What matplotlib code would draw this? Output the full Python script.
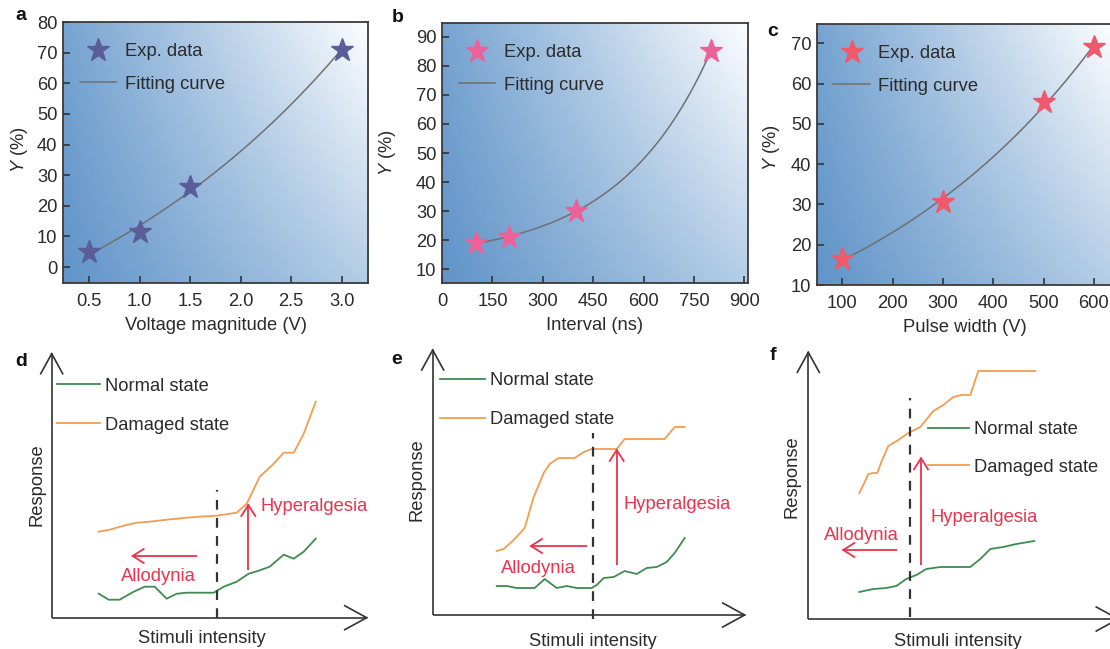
import numpy as np
import matplotlib
matplotlib.use('Agg')
import matplotlib.pyplot as plt
from matplotlib.colors import to_rgb

plt.rcParams['font.family'] = ['Liberation Sans', 'DejaVu Sans']
plt.rcParams['mathtext.fontset'] = 'custom'
plt.rcParams['mathtext.it'] = 'Liberation Sans:italic'
plt.rcParams['mathtext.rm'] = 'Liberation Sans'
plt.rcParams['lines.scale_dashes'] = False

# ---------------- data ----------------
volt_x = [0.5, 1.0, 1.5, 3.0]
volt_y = [5, 11.5, 26, 71]
interval_x = [100, 200, 400, 800]
interval_y = [19, 21, 30, 85]
pulse_x = [100, 300, 500, 600]
pulse_y = [16.5, 30.5, 55.5, 69]

volt_ticks = [0.5, 1.0, 1.5, 2.0, 2.5, 3.0]
volt_yticks = [0, 10, 20, 30, 40, 50, 60, 70, 80]
interval_ticks = [0, 150, 300, 450, 600, 750, 900]
interval_yticks = [10, 20, 30, 40, 50, 60, 70, 80, 90]
pulse_ticks = [100, 200, 300, 400, 500, 600]
pulse_yticks = [10, 20, 30, 40, 50, 60, 70]

# schematic curves (arbitrary units: stimuli intensity vs response)
d_norm_x = [47, 57, 68, 82, 93, 103, 115, 125, 135, 162, 172, 185, 197, 207, 218, 232, 242, 252, 264]
d_norm_y = [24, 18, 18, 26, 31, 31, 19, 24, 25, 25, 31, 36, 44, 47, 51, 63, 59, 66, 79]
d_dam_x = [47, 58, 72, 85, 98, 115, 135, 148, 165, 185, 195, 208, 222, 232, 242, 252, 264]
d_dam_y = [86, 88, 92, 95, 96, 98, 100, 101, 102, 105, 114, 141, 154, 165, 165, 184, 216]

e_norm_x = [64, 74, 84, 102, 112, 124, 134, 144, 159, 164, 171, 181, 192, 204, 214, 224, 234, 242, 252]
e_norm_y = [29, 29, 27, 27, 36, 27, 29, 27, 27, 30, 37, 38, 44, 41, 47, 48, 53, 62, 77]
e_dam_x = [64, 71, 81, 92, 101, 111, 117, 126, 142, 151, 159, 184, 192, 232, 242, 252]
e_dam_y = [64, 66, 75, 87, 118, 142, 151, 157, 157, 163, 166, 166, 176, 176, 188, 188]

f_norm_x = [51, 65, 78, 88, 98, 108, 118, 132, 152, 162, 172, 182, 195, 208, 226]
f_norm_y = [27, 30, 31, 33, 40, 44, 50, 52, 52, 52, 60, 70, 72, 75, 78]
f_dam_x = [51, 55, 60, 65, 69, 73, 80, 90, 100, 112, 125, 135, 145, 153, 162, 170, 227]
f_dam_y = [126, 134, 145, 146, 146, 157, 173, 179, 186, 192, 208, 214, 222, 224, 224, 248, 248]

# ---------------- figure ----------------
FW, FH = 1110, 649
fig = plt.figure(figsize=(FW / 100, FH / 100), dpi=100)


def px_axes(left, top, right, bottom):
    return fig.add_axes([left / FW, 1 - bottom / FH, (right - left) / FW, (bottom - top) / FH])


def exp_fit(x, y):
    x = np.asarray(x, float)
    y = np.asarray(y, float)
    span = x.max() - x.min()
    best = None
    for t in np.linspace(span * 0.05, span * 20, 4000):
        M = np.column_stack([np.ones_like(x), np.exp((x - x.min()) / t)])
        coef = np.linalg.lstsq(M, y, rcond=None)[0]
        err = np.sum((M @ coef - y) ** 2)
        if best is None or err < best[0]:
            best = (err, t, coef)
    _, t, coef = best
    xs = np.linspace(x.min(), x.max(), 300)
    return xs, coef[0] + coef[1] * np.exp((xs - x.min()) / t)


BLUE = np.array(to_rgb('#6094c9'))
WHITE = np.array(to_rgb('#fafcfe'))
uu, vv = np.meshgrid(np.linspace(0, 1, 200), np.linspace(0, 1, 200))
tt = np.clip(0.55 * uu + 0.15 * vv + 0.32 * uu * vv, 0, 1)
GRAD = BLUE[None, None, :] * (1 - tt[..., None]) + WHITE[None, None, :] * tt[..., None]

FS = 13.2
TXT = '#2b2b2b'


def top_panel(box, x, y, color, xticks, yticks, xlim, ylim, xlabel, ylab_xy):
    ax = px_axes(*box)
    ax.imshow(GRAD, extent=(0, 1, 0, 1), transform=ax.transAxes, origin='lower',
              aspect='auto', zorder=0, interpolation='bilinear')
    xs, ys = exp_fit(x, y)
    ax.plot(x, y, ls='none', marker='*', ms=17, color=color, mec=color, zorder=3,
            label='Exp. data')
    ax.plot(xs, ys, color='#707070', lw=1.1, zorder=2, label='Fitting curve')
    ax.set_xlim(*xlim)
    ax.set_ylim(*ylim)
    ax.set_xticks(xticks)
    ax.set_yticks(yticks)
    ax.set_xticklabels([('%g' % v) if isinstance(v, int) else ('%.1f' % v) for v in xticks])
    ax.tick_params(direction='in', length=5, width=1.2, colors='#333333',
                   labelsize=FS, labelcolor=TXT)
    ax.tick_params(axis='x', pad=7)
    ax.tick_params(axis='y', pad=4)
    for s in ax.spines.values():
        s.set_linewidth(1.3)
        s.set_color('#3a3a3a')
        s.set_zorder(5)
    ax.set_xlabel(xlabel, fontsize=FS, color=TXT, labelpad=5)
    ax.set_ylabel('$Y$ (%)', fontsize=FS, color=TXT)
    ax.yaxis.set_label_coords(*ylab_xy)
    leg = ax.legend(loc='upper left', bbox_to_anchor=(0.055, 0.918), frameon=False,
                    fontsize=FS, handlelength=2.0, handletextpad=0.45, labelspacing=0.83,
                    borderpad=0, borderaxespad=0, markerscale=1.0)
    for t in leg.get_texts():
        t.set_color(TXT)
    return ax


top_panel((63, 22, 368, 283), volt_x, volt_y, '#5b5d98', volt_ticks, volt_yticks,
          (0.24, 3.26), (-5.2, 80), 'Voltage magnitude (V)', (-0.108, 0.51))
top_panel((442, 23, 748, 283), interval_x, interval_y, '#ee6098', interval_ticks, interval_yticks,
          (0, 911), (5.2, 94.8), 'Interval (ns)', (-0.144, 0.50))
top_panel((817, 24, 1113, 285), pulse_x, pulse_y, '#ee5a6c', pulse_ticks, pulse_yticks,
          (50, 638), (10, 74.8), 'Pulse width (V)', (-0.118, 0.527))

GREEN = '#3f8b52'
ORANGE = '#f39c52'
RED = '#e8344e'
AXC = '#333333'


def open_arrow(ax, x0, y0, x1, y1, color, lw, back, half):
    d = np.array([x1 - x0, y1 - y0], float)
    d /= np.hypot(*d)
    n = np.array([-d[1], d[0]])
    tip = np.array([x1, y1], float)
    base = tip - d * back
    ax.plot([x0, x1], [y0, y1], color=color, lw=lw, clip_on=False, solid_capstyle='butt')
    for sgn in (1, -1):
        p = base + sgn * n * half
        ax.plot([p[0], tip[0]], [p[1], tip[1]], color=color, lw=lw, clip_on=False)


def bottom_panel(origin_left, origin_bottom, W, H, nx, ny, dx, dy, dash, hyper, allo,
                 leg_xy, leg_hl, leg_sp, lab_x, lab_y):
    ax = px_axes(origin_left, origin_bottom - H, origin_left + W, origin_bottom)
    ax.set_xlim(0, W)
    ax.set_ylim(0, H)
    ax.axis('off')
    open_arrow(ax, 0, 0, W, 0, AXC, 1.2, 22, 12)
    open_arrow(ax, 0, 0, 0, H, AXC, 1.2, 20, 11)
    ax.plot(nx, ny, color=GREEN, lw=1.3, label='Normal state')
    ax.plot(dx, dy, color=ORANGE, lw=1.3, label='Damaged state')
    ax.plot([dash[0], dash[0]], [dash[1], dash[2]], color=AXC, lw=1.6, ls=(0, (7, 6)),
            clip_on=False)
    hx, hy0, hy1, htx, hty = hyper
    open_arrow(ax, hx, hy0, hx, hy1, RED, 1.3, 11, 7)
    ax.text(htx, hty, 'Hyperalgesia', color=RED, fontsize=FS, ha='left', va='center')
    ay, ax0, ax1, atx, aty = allo
    open_arrow(ax, ax0, ay, ax1, ay, RED, 1.3, 11, 7)
    ax.text(atx, aty, 'Allodynia', color=RED, fontsize=FS, ha='center', va='center')
    leg = ax.legend(loc='upper left', bbox_to_anchor=leg_xy, bbox_transform=ax.transData,
                    frameon=False, fontsize=FS, handlelength=leg_hl, handletextpad=0.32,
                    labelspacing=leg_sp, borderpad=0, borderaxespad=0)
    for t in leg.get_texts():
        t.set_color(TXT)
    ax.text(lab_x[0], lab_x[1], 'Stimuli intensity', fontsize=FS, color=TXT,
            ha='center', va='center', clip_on=False)
    ax.text(lab_y[0], lab_y[1], 'Response', fontsize=FS, color=TXT, rotation=90,
            ha='center', va='center', clip_on=False)
    return ax


bottom_panel(51.7, 617.7, 315, 264, d_norm_x, d_norm_y, d_dam_x, d_dam_y,
             (165.6, 0, 128), (196.6, 47.7, 112.7, 208.3, 111), (61.7, 145, 81, 106.6, 41),
             (5, 240), 2.34, 1.2, (150, -20.6), (-15, 132.7))
bottom_panel(432.7, 615, 312, 265, e_norm_x, e_norm_y, e_dam_x, e_dam_y,
             (160, -4, 182), (184, 50, 165, 190.6, 110.7), (69, 154, 98.3, 105.6, 46.7),
             (7.3, 243), 2.43, 1.22, (160.6, -26.7), (-16, 135))
bottom_panel(808.3, 619, 310, 266.7, f_norm_x, f_norm_y, f_dam_x, f_dam_y,
             (101.7, 2, 221), (112.7, 54, 160.7, 122.4, 101.3), (69, 89, 35, 53.4, 84),
             (120, 198), 2.2, 1.12, (150, -22.7), (-16.6, 142.3))

for lab, x, y in [('a', 21, 16), ('b', 398, 17), ('c', 773, 31),
                  ('d', 21, 362), ('e', 397, 360), ('f', 773, 356)]:
    fig.text(x / FW, 1 - y / FH, lab, fontsize=14, fontweight='bold', color='#111111',
             ha='center', va='center')

fig.savefig('out.png', dpi=100)
